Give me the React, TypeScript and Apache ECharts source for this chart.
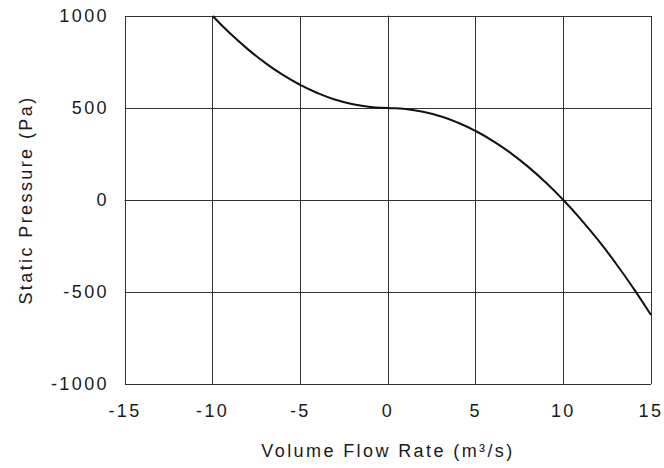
import React, { useEffect, useRef } from "react";
import * as echarts from "echarts";

const flowRate = [-10, -9, -8, -7, -6, -5, -4, -3, -2, -1, 0, 1, 2, 3, 4, 5, 6, 7, 8, 9, 10, 11, 12, 13, 14, 15];
const pressure = [1000, 905, 820, 745, 680, 625, 580, 545, 520, 505, 500, 495, 480, 455, 420, 375, 320, 255, 180, 95, 0, -105, -220, -345, -480, -625];

const xTitle = "Volume Flow Rate (m³/s)";
const yTitle = "Static Pressure (Pa)";

export default function App() {
  const ref = useRef<HTMLDivElement>(null);
  useEffect(() => {
    if (!ref.current) return;
    const chart = echarts.init(ref.current, null, { renderer: "svg" });
    const font = "'Liberation Sans', Arial, sans-serif";
    const lineColor = "#333";
    const textColor = "#1a1a1a";
    chart.setOption({
      animation: false,
      backgroundColor: "#fff",
      grid: { left: 125, right: 12, top: 16, bottom: 84, containLabel: false },
      xAxis: {
        type: "value",
        min: -15,
        max: 15,
        interval: 5,
        name: xTitle,
        nameLocation: "middle",
        nameGap: 58,
        nameTextStyle: { fontFamily: font, fontSize: 18, color: textColor },
        axisLine: { show: true, lineStyle: { color: lineColor, width: 1 } },
        axisTick: { show: true, length: 5, lineStyle: { color: lineColor } },
        axisLabel: { fontFamily: font, fontSize: 18, color: textColor, margin: 18, formatter: (v: number) => String(v) },
        splitLine: { show: true, lineStyle: { color: lineColor, width: 1 } },
      },
      yAxis: {
        type: "value",
        min: -1000,
        max: 1000,
        interval: 500,
        name: yTitle,
        nameLocation: "middle",
        nameGap: 90,
        nameTextStyle: { fontFamily: font, fontSize: 18, color: textColor },
        axisLine: { show: true, lineStyle: { color: lineColor, width: 1 } },
        axisTick: { show: true, length: 5, lineStyle: { color: lineColor } },
        axisLabel: { fontFamily: font, fontSize: 18, color: textColor, margin: 16, formatter: (v: number) => String(v) },
        splitLine: { show: true, lineStyle: { color: lineColor, width: 1 } },
      },
      series: [
        {
          type: "line",
          data: flowRate.map((q, i) => [q, pressure[i]]),
          smooth: true,
          showSymbol: false,
          lineStyle: { color: "#111", width: 2 },
        },
      ],
    });
    return () => chart.dispose();
  }, []);
  return (
    <>
      <style>{"#chart text { letter-spacing: 2.4px; }"}</style>
      <div id="chart" ref={ref} style={{ width: 664, height: 468, position: "absolute", left: 0, top: 0 }} />
    </>
  );
}
